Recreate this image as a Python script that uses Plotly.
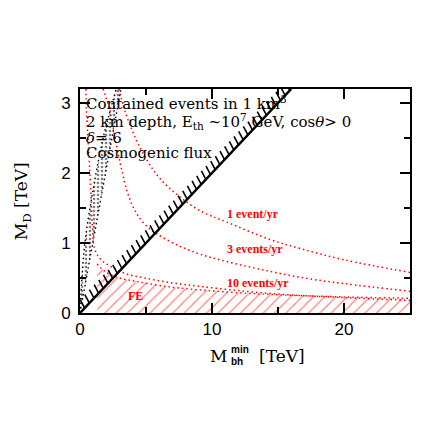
import numpy as np
import plotly.graph_objects as go

# contours of event rate, x = M_bh^min [TeV], y = M_D [TeV]
ev1_x = [2.95, 3.38, 4.2, 5.15, 6.06, 7.42, 9.1, 11.1, 14.4, 16.7, 20, 25]
ev1_y = [3.2, 2.9, 2.5, 2.16, 1.92, 1.68, 1.46, 1.3, 1.05, 0.92, 0.76, 0.58]

ev3_x = [1.75, 2.25, 2.7, 3.13, 3.6, 4.2, 5.0, 5.9, 7.5, 9.1, 11, 14, 17, 20, 25]
ev3_y = [3.2, 2.9, 2.45, 2.07, 1.72, 1.45, 1.25, 1.12, 0.96, 0.84, 0.74, 0.61, 0.5, 0.42, 0.31]

ev10_x = [0.45, 0.48, 0.6, 0.73, 0.85, 0.95, 1.1, 1.6, 2.37, 3.5, 4.9, 7, 9.1, 12, 15, 20, 25]
ev10_y = [3.2, 2.93, 2.5, 2.07, 1.6, 1.2, 0.92, 0.76, 0.66, 0.56, 0.5, 0.43, 0.38, 0.32, 0.27, 0.22, 0.18]

# Fly's Eye bound
fe_x = [1.3, 2.0, 3.0, 4.3, 6.5, 9.1, 12, 15, 20, 25]
fe_y = [0.7, 0.58, 0.5, 0.45, 0.38, 0.33, 0.29, 0.26, 0.23, 0.21]

# black dotted band near the axis
band_l_x = [0, 0.15, 0.4, 1.0, 1.75, 2.75]
band_l_y = [0, 0.52, 1.05, 1.77, 2.5, 3.2]
band_r_x = [0, 3.1]
band_r_y = [0, 3.2]

# hatched diagonal  M_bh^min = 5 M_D
diag_x = [0, 16]
diag_y = [0, 3.2]

XMAX, YMAX = 25, 3.2
# the page has an 8px body margin, so the figure is 8px smaller
W, H = 425, 417
ML, MR, MT, MB = 72, 23, 81, 112
sx = (W - ML - MR) / XMAX
sy = (H - MT - MB) / YMAX

RED = "#ff0000"
DOTS = "1.5px,3px"

fig = go.Figure()

# black dotted band
fig.add_trace(go.Scatter(
    x=band_l_x + band_r_x[::-1], y=band_l_y + band_r_y[::-1],
    mode="lines", line=dict(width=0), fill="toself",
    fillcolor="rgba(0,0,0,0)",
    fillpattern=dict(shape=".", fgcolor="black", bgcolor="rgba(0,0,0,0)", size=4, solidity=0.35),
    hoverinfo="skip"))
fig.add_trace(go.Scatter(x=band_l_x, y=band_l_y, mode="lines",
                         line=dict(color="black", width=1.4, dash=DOTS, shape="spline")))
fig.add_trace(go.Scatter(x=band_r_x, y=band_r_y, mode="lines",
                         line=dict(color="black", width=1.4, dash=DOTS)))

# FE region
fig.add_trace(go.Scatter(
    x=fe_x, y=fe_y, mode="lines", fill="tozeroy",
    line=dict(color=RED, width=1.4, dash=DOTS, shape="spline"),
    fillcolor="rgba(0,0,0,0)",
    fillpattern=dict(shape="/", fgcolor=RED, bgcolor="rgba(0,0,0,0)", size=8, solidity=0.15)))

for xs, ys in [(ev1_x, ev1_y), (ev3_x, ev3_y), (ev10_x, ev10_y)]:
    fig.add_trace(go.Scatter(x=xs, y=ys, mode="lines",
                             line=dict(color=RED, width=1.5, dash=DOTS, shape="spline")))

# diagonal with hatch ticks on the upper-left side
fig.add_trace(go.Scatter(x=diag_x, y=diag_y, mode="lines", line=dict(color="black", width=2.5)))
Lpx = np.hypot((diag_x[1] - diag_x[0]) * sx, (diag_y[1] - diag_y[0]) * sy)
n = int(Lpx / 6.7)
hx, hy = [], []
for i in range(1, n + 1):
    t = i / (n + 0.3)
    x0 = diag_x[0] + t * (diag_x[1] - diag_x[0])
    y0 = diag_y[0] + t * (diag_y[1] - diag_y[0])
    hx += [x0, x0 - 4.5 / sx, None]
    hy += [y0, y0 + 8.5 / sy, None]
fig.add_trace(go.Scatter(x=hx, y=hy, mode="lines", line=dict(color="black", width=1.6)))

serif = "DejaVu Serif"
txt = dict(xref="paper", yref="paper", xanchor="left", yanchor="middle", showarrow=False,
           font=dict(family=serif, size=15, color="black"))
lines = ["Contained events in 1 km<sup>3</sup>",
         "2 km depth, E<sub>th</sub> ~10<sup>7</sup> GeV, cos<i>θ</i>> 0",
         "<i>δ</i>= 6",
         "Cosmogenic flux"]
for s, yy in zip(lines, [0.9375, 0.857, 0.781, 0.714]):
    fig.add_annotation(text=s, x=0.012, y=yy, **txt)

lab = dict(showarrow=False, xanchor="left", yanchor="middle",
           font=dict(family="Liberation Serif", size=12, color=RED, weight="bold"))
fig.add_annotation(text="1 event/yr", x=11.0, y=1.41, **lab)
fig.add_annotation(text="3 events/yr", x=11.0, y=0.91, **lab)
fig.add_annotation(text="10 events/yr", x=11.0, y=0.43, **lab)
fig.add_annotation(text="FE", x=3.5, y=0.245, **lab)

# axis titles
ttl = dict(xref="paper", yref="paper", showarrow=False, font=dict(family=serif, size=17, color="black"))
small = dict(xref="paper", yref="paper", showarrow=False, xanchor="left", yanchor="middle",
             font=dict(family="Liberation Sans", size=10, color="black", weight="bold"))
fig.add_annotation(text="M", x=0.45, y=-0.19, xanchor="right", yanchor="middle", **ttl)
fig.add_annotation(text="min", x=0.452, y=-0.165, **small)
fig.add_annotation(text="bh", x=0.452, y=-0.217, **small)
fig.add_annotation(text="[TeV]", x=0.535, y=-0.19, xanchor="left", yanchor="middle", **ttl)
fig.add_annotation(text="M<sub>D</sub> [TeV]", x=-0.175, y=0.5, textangle=-90,
                   xanchor="center", yanchor="middle", **ttl)

ax = dict(showgrid=False, zeroline=False, showline=True, linecolor="black", linewidth=2,
          mirror="allticks", ticks="inside", ticklen=10, tickwidth=1.5, tickcolor="black",
          tickfont=dict(family="Liberation Sans", size=17, color="black"))
fig.update_xaxes(range=[0, XMAX], tickvals=[0, 10, 20],
                 minor=dict(tickvals=[5, 15, 25], ticks="inside", ticklen=6, tickwidth=1.5, tickcolor="black"),
                 **ax)
fig.update_yaxes(range=[0, YMAX], tickvals=[0, 1, 2, 3], ticklabelstandoff=4,
                 minor=dict(tickvals=[0.5, 1.5, 2.5], ticks="inside", ticklen=6, tickwidth=1.5, tickcolor="black"),
                 **ax)

fig.update_layout(width=W, height=H, margin=dict(l=ML, r=MR, t=MT, b=MB),
                  showlegend=False, plot_bgcolor="white", paper_bgcolor="white")

fig.write_html("out.html")
